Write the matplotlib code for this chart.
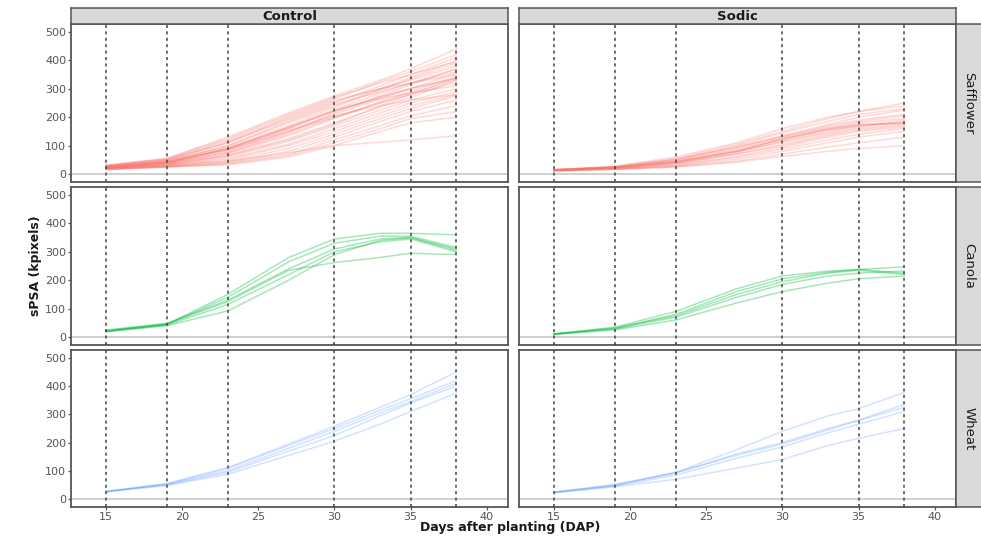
import matplotlib.pyplot as plt
from matplotlib.font_manager import fontManager

W, H = 981, 537

# sample days for every plant curve
days = [15, 19, 23, 27, 30, 33, 35, 38]
vlines = [15, 19, 23, 30, 35, 38]

treatments = ['Control', 'Sodic']
species = ['Safflower', 'Canola', 'Wheat']
colors = {'Safflower': '#F8766D', 'Canola': '#00BA38', 'Wheat': '#619CFF'}
alphas = {'Safflower': 0.27, 'Canola': 0.35, 'Wheat': 0.28}

safflower_control = [
    [30, 55, 130, 215, 275, 330, 370, 440],
    [28, 52, 120, 205, 265, 325, 360, 420],
    [32, 55, 125, 210, 270, 320, 350, 395],
    [25, 48, 110, 190, 250, 310, 350, 410],
    [27, 45, 100, 180, 240, 300, 340, 400],
    [30, 50, 115, 195, 255, 300, 330, 380],
    [26, 45, 95, 170, 235, 295, 335, 390],
    [24, 42, 90, 165, 225, 285, 320, 370],
    [25, 40, 88, 160, 220, 270, 300, 335],
    [25, 41, 90, 162, 222, 272, 302, 337],
    [23, 40, 90, 165, 225, 265, 285, 310],
    [22, 38, 80, 150, 210, 265, 300, 355],
    [20, 35, 70, 135, 195, 255, 290, 345],
    [22, 38, 75, 140, 200, 250, 280, 320],
    [20, 33, 65, 125, 180, 235, 270, 330],
    [18, 32, 60, 115, 170, 225, 260, 300],
    [20, 30, 55, 105, 160, 215, 250, 290],
    [18, 30, 50, 100, 150, 205, 240, 280],
    [17, 28, 45, 90, 140, 195, 230, 275],
    [16, 26, 40, 80, 130, 185, 220, 260],
    [15, 25, 38, 70, 120, 170, 205, 240],
    [18, 25, 35, 65, 110, 160, 195, 220],
    [17, 25, 32, 60, 100, 150, 180, 200],
    [22, 30, 45, 75, 100, 112, 120, 135],
    [28, 50, 110, 200, 260, 300, 320, 350],
    [24, 45, 100, 185, 245, 290, 320, 360],
    [26, 42, 85, 150, 200, 250, 285, 330],
    [20, 36, 75, 145, 215, 275, 315, 370],
    [19, 34, 65, 120, 175, 240, 280, 340],
    [23, 40, 85, 155, 205, 240, 260, 280],
]

safflower_sodic = [
    [15, 25, 55, 105, 150, 195, 220, 250],
    [16, 28, 60, 110, 160, 200, 220, 240],
    [14, 24, 50, 100, 145, 185, 210, 230],
    [15, 25, 50, 95, 135, 175, 200, 225],
    [13, 22, 45, 90, 130, 170, 190, 210],
    [14, 24, 45, 85, 125, 160, 180, 195],
    [15, 23, 42, 80, 120, 155, 170, 180],
    [14, 22, 42, 80, 125, 160, 175, 180],
    [15, 23, 43, 81, 122, 157, 172, 178],
    [13, 20, 38, 75, 115, 150, 170, 190],
    [12, 20, 35, 70, 105, 140, 160, 175],
    [13, 21, 38, 70, 100, 135, 155, 170],
    [12, 19, 32, 62, 95, 130, 150, 165],
    [12, 18, 30, 58, 88, 120, 140, 160],
    [11, 17, 28, 52, 80, 110, 130, 150],
    [12, 17, 25, 45, 70, 95, 110, 130],
    [11, 16, 25, 42, 62, 80, 90, 100],
    [14, 22, 40, 78, 112, 145, 165, 185],
    [15, 26, 52, 95, 132, 165, 185, 205],
]

canola_control = [
    [22, 45, 150, 280, 345, 365, 365, 360],
    [20, 45, 140, 265, 330, 355, 355, 315],
    [25, 48, 130, 240, 310, 345, 350, 305],
    [18, 42, 115, 220, 300, 335, 345, 300],
    [22, 46, 125, 235, 262, 280, 295, 290],
    [20, 40, 92, 200, 290, 340, 350, 310],
]

canola_sodic = [
    [10, 35, 90, 170, 215, 232, 238, 247],
    [10, 30, 80, 160, 205, 228, 238, 225],
    [12, 32, 75, 150, 195, 225, 235, 220],
    [9, 25, 60, 120, 160, 190, 205, 215],
    [11, 28, 70, 140, 185, 215, 225, 232],
]

wheat_control = [
    [27, 55, 112, 195, 258, 325, 370, 450],
    [26, 54, 108, 190, 250, 315, 355, 420],
    [28, 52, 100, 180, 240, 305, 345, 410],
    [25, 50, 95, 170, 225, 295, 340, 400],
    [27, 48, 88, 155, 205, 265, 310, 375],
]

wheat_sodic = [
    [24, 48, 95, 175, 240, 295, 320, 378],
    [24, 50, 92, 160, 200, 250, 280, 335],
    [25, 52, 94, 155, 195, 245, 278, 325],
    [23, 46, 85, 145, 185, 235, 265, 310],
    [22, 44, 70, 110, 140, 190, 215, 250],
]

curves = {
    ('Safflower', 'Control'): safflower_control,
    ('Safflower', 'Sodic'): safflower_sodic,
    ('Canola', 'Control'): canola_control,
    ('Canola', 'Sodic'): canola_sodic,
    ('Wheat', 'Control'): wheat_control,
    ('Wheat', 'Sodic'): wheat_sodic,
}

names = {f.name for f in fontManager.ttflist}
narrow = 'DejaVu Sans'
for cand in ['Liberation Sans Narrow', 'DejaVu Sans Condensed']:
    if cand in names:
        narrow = cand
        break


def rect(x0, y0, x1, y1):
    return [x0 / W, 1 - y1 / H, (x1 - x0) / W, (y1 - y0) / H]


fig = plt.figure(figsize=(W / 100, H / 100), dpi=100)

col_x = [(71, 508), (519, 956)]
row_y = [(24, 182), (187, 345), (350, 507)]
frame = '#555555'

for r, sp in enumerate(species):
    for c, tr in enumerate(treatments):
        x0, x1 = col_x[c]
        y0, y1 = row_y[r]
        ax = fig.add_axes(rect(x0, y0, x1, y1))
        ax.set_xlim(12.7, 41.4)
        ax.set_ylim(-28, 528)
        ax.axhline(0, color='#c8c8c8', lw=1.2, zorder=1)
        for v in vlines:
            ax.axvline(v, color='#444444', lw=1.1, ls=(0, (2, 2.2)), zorder=3)
        for ys in curves[(sp, tr)]:
            ax.plot(days, ys, color=colors[sp], alpha=alphas[sp], lw=1.1, zorder=2)
        for s in ax.spines.values():
            s.set_color(frame)
            s.set_linewidth(1.3)
        ax.set_xticks([15, 20, 25, 30, 35, 40])
        ax.set_yticks([0, 100, 200, 300, 400, 500])
        ax.tick_params(colors=frame, labelcolor='#555555', labelsize=8,
                       length=2.5, width=0.9, pad=1)
        if r < 2:
            ax.tick_params(axis='x', labelbottom=False, length=0)
        if c == 1:
            ax.tick_params(axis='y', labelleft=False, length=0)

        # facet strips
        if r == 0:
            sax = fig.add_axes(rect(x0, 8, x1, 24))
            sax.set_facecolor('#d9d9d9')
            sax.set_xticks([])
            sax.set_yticks([])
            for s in sax.spines.values():
                s.set_color(frame)
                s.set_linewidth(1.1)
            sax.text(0.5, 0.45, tr, ha='center', va='center', fontsize=9.5,
                     fontweight='bold', color='#1a1a1a', transform=sax.transAxes)
        if c == 1:
            sax = fig.add_axes(rect(956, y0, 985, y1))
            sax.set_facecolor('#d9d9d9')
            sax.set_xticks([])
            sax.set_yticks([])
            for s in sax.spines.values():
                s.set_color(frame)
                s.set_linewidth(1.1)
            sax.text(0.45, 0.5, sp, ha='center', va='center', rotation=-90,
                     fontsize=9.5, family=narrow, color='#1a1a1a',
                     transform=sax.transAxes)

fig.text(35 / W, 1 - 266 / H, 'sPSA (kpixels)', rotation=90, ha='center',
         va='center', fontsize=9, family=narrow, fontweight='bold', color='#1a1a1a')
fig.text(510 / W, 1 - 527 / H, 'Days after planting (DAP)', ha='center',
         va='center', fontsize=9, fontweight='bold', color='#1a1a1a')

fig.savefig('out.png', dpi=100)
